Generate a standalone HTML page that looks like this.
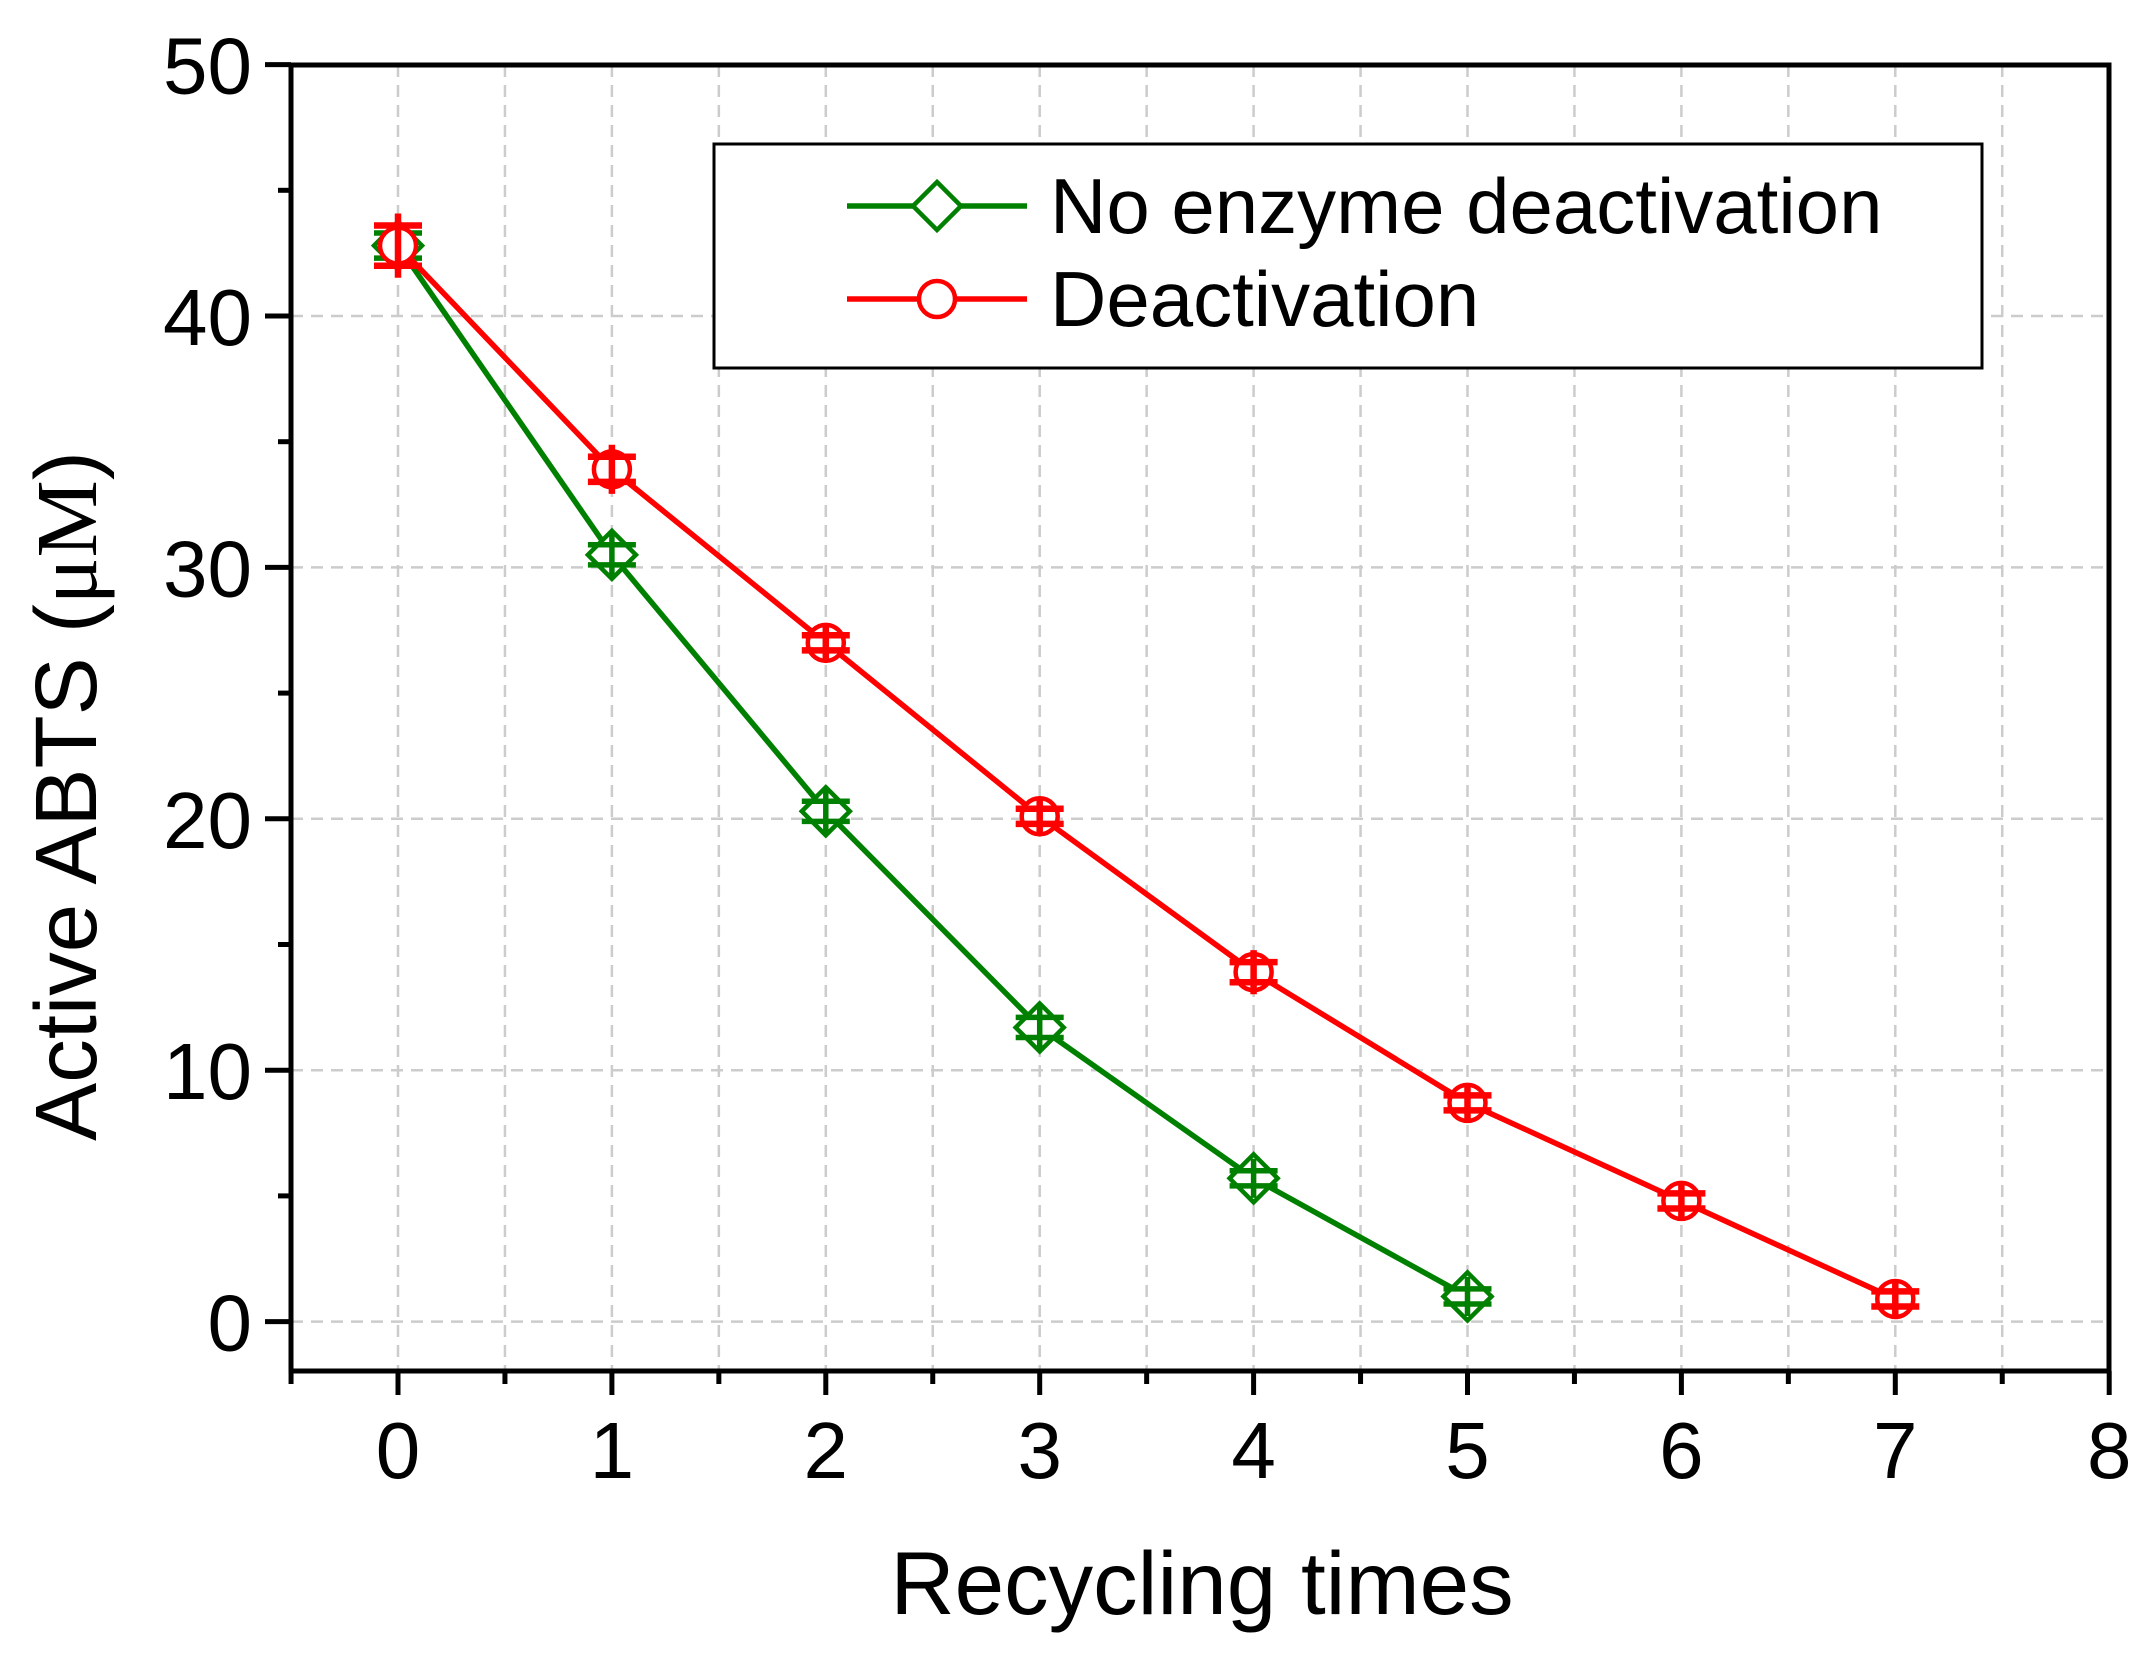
<!DOCTYPE html>
<html><head><meta charset="utf-8"><style>
html,body{margin:0;padding:0;background:#fff;}
svg{display:block;font-family:"Liberation Sans",Arial,sans-serif;}
</style></head><body>
<svg id="chart" width="2152" height="1658" viewBox="0 0 2152 1658" xmlns="http://www.w3.org/2000/svg">
<g id="grid"></g>
<g id="axes"></g>
<g id="series"></g>
<g id="legend">
<rect x="714" y="144" width="1268" height="224" fill="#fff" stroke="#000" stroke-width="3"/>
<g>
<line x1="847" y1="206" x2="1027" y2="206" stroke="#008000" stroke-width="5.5"/>
<polygon points="937,182 961,206 937,230 913,206" fill="#fff" stroke="#008000" stroke-width="4.5"/>
<text x="1050" y="233" font-size="78" fill="#000">No enzyme deactivation</text>
</g>
<g>
<line x1="847" y1="299" x2="1027" y2="299" stroke="#ff0000" stroke-width="5.5"/>
<circle cx="937" cy="299" r="18" fill="#fff" stroke="#ff0000" stroke-width="4.5"/>
<text x="1050" y="326" font-size="78" fill="#000">Deactivation</text>
</g>
</g>
<text x="1202" y="1614" font-size="89" text-anchor="middle">Recycling times</text>
<text transform="translate(96,796) rotate(-90)" font-size="87" text-anchor="middle">Active ABTS (<tspan font-family="Liberation Serif,serif">μM</tspan>)</text>
</svg>
<script>
const xTicks=[0,1,2,3,4,5,6,7,8];
const yTicks=[0,10,20,30,40,50];
const xCats=[0,1,2,3,4,5,6,7];
const greenVals=[42.8,30.5,20.3,11.7,5.7,1.0];
const greenErr=[0.5,0.4,0.4,0.4,0.3,0.3];
const redVals=[42.8,33.9,27.0,20.1,13.9,8.7,4.8,0.9];
const redErr=[0.8,0.5,0.3,0.3,0.4,0.3,0.3,0.3];
const NS="http://www.w3.org/2000/svg";
const L=291,R=2109,T=65,B=1371;
const X0=398,XS=213.9,Y0=1321.6,YS=25.14;
function sx(v){return X0+v*XS;}
function sy(v){return Y0-v*YS;}
function mk(tag,attrs,parent){const e=document.createElementNS(NS,tag);for(const k in attrs)e.setAttribute(k,attrs[k]);parent.appendChild(e);return e;}
const grid=document.getElementById('grid'),axes=document.getElementById('axes'),series=document.getElementById('series');
for(let v=-0.5;v<=8;v+=0.5){const x=sx(v);if(x<=L+2||x>=R-2)continue;
const g=mk('line',{x1:x,y1:T,x2:x,y2:B,stroke:'#cccccc','stroke-width':2.5,'stroke-dasharray':'12,8'},grid);

}
yTicks.forEach(v=>{const y=sy(v);if(y<=T+2)return;
const g=mk('line',{x1:L,y1:y,x2:R,y2:y,stroke:'#cccccc','stroke-width':2.5,'stroke-dasharray':'12,8'},grid);

});
const fr=mk('rect',{x:L,y:T,width:R-L,height:B-T,fill:'none',stroke:'#000','stroke-width':5},axes);


xTicks.forEach(v=>{const x=sx(v);
const t=mk('line',{x1:x,y1:B,x2:x,y2:B+24,stroke:'#000','stroke-width':5},axes);


const lb=mk('text',{x:x,y:1478,'font-size':80,'text-anchor':'middle'},axes);lb.textContent=v;


if(v<8){const m=mk('line',{x1:sx(v+0.5),y1:B,x2:sx(v+0.5),y2:B+13,stroke:'#000','stroke-width':5},axes);

}});
{const m=mk('line',{x1:sx(-0.5),y1:B,x2:sx(-0.5),y2:B+13,stroke:'#000','stroke-width':5},axes);

}
yTicks.forEach(v=>{const y=sy(v);
const t=mk('line',{x1:L-26,y1:y,x2:L,y2:y,stroke:'#000','stroke-width':5},axes);


const lb=mk('text',{x:252,y:y+29,'font-size':80,'text-anchor':'end'},axes);lb.textContent=v;


if(v<50){const m=mk('line',{x1:L-13,y1:sy(v+5),x2:L,y2:sy(v+5),stroke:'#000','stroke-width':5},axes);

}});
function drawSeries(vals,errs,color,shape,name){
const g=mk('g',{},series);


const pts=vals.map((v,i)=>sx(xCats[i])+','+sy(v)).join(' ');
const pl=mk('polyline',{points:pts,fill:'none',stroke:color,'stroke-width':5.5},g);


vals.forEach((v,i)=>{const x=sx(xCats[i]),y=sy(v);
const e1=sy(v+errs[i]),e2=sy(v-errs[i]);
let m;
if(shape==='diamond'){m=mk('polygon',{points:`${x},${y-24} ${x+24},${y} ${x},${y+24} ${x-24},${y}`,fill:'#fff',stroke:color,'stroke-width':4.5},g);}
else{m=mk('circle',{cx:x,cy:y,r:18,fill:'#fff',stroke:color,'stroke-width':4.5},g);}


const eb=mk('path',{d:`M${x},${e1-12}V${e2+12}M${x-24},${e1}H${x+24}M${x-24},${e2}H${x+24}`,stroke:color,'stroke-width':(shape==='diamond'?5.5:6.5),fill:'none'},g);

});}
drawSeries(greenVals,greenErr,'#008000','diamond','series-no-deactivation');
drawSeries(redVals,redErr,'#ff0000','circle','series-deactivation');
</script>
</body></html>
